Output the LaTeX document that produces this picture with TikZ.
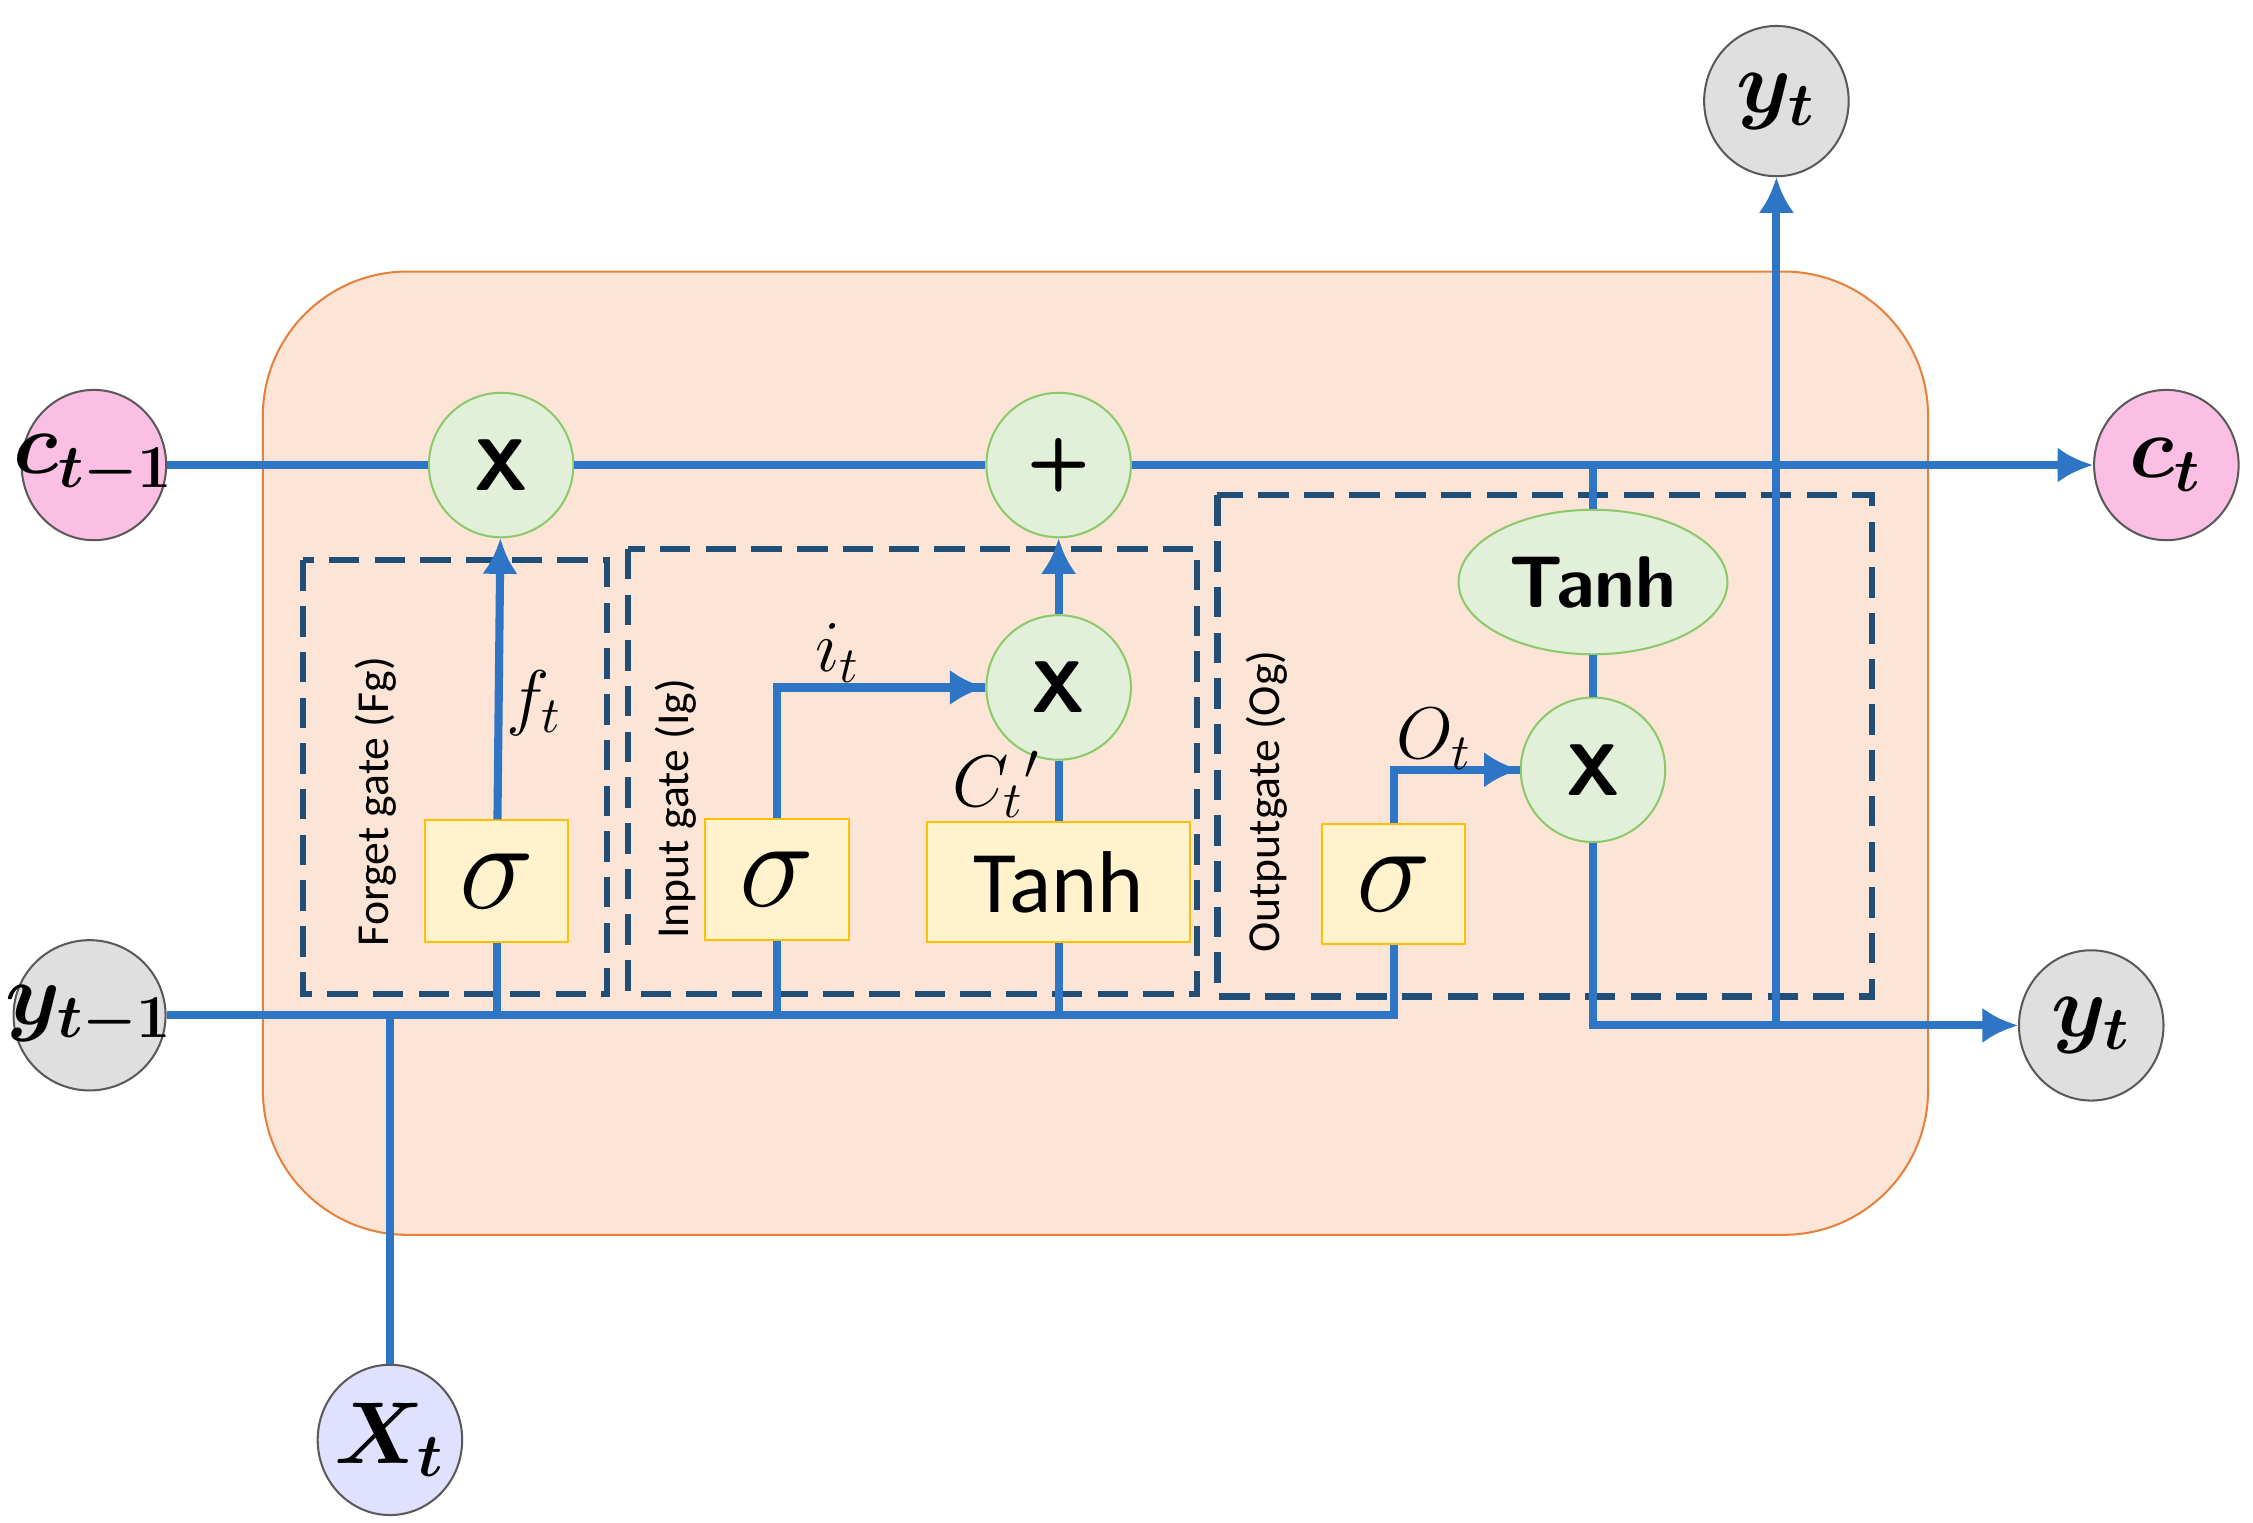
\documentclass[tikz,border=0pt]{standalone}
\usepackage{fontspec}
\setmainfont{Carlito}
\usepackage{bm}
\usetikzlibrary{shapes.geometric,arrows.meta,positioning}
\definecolor{cellfill}{HTML}{FCE4D6}
\definecolor{celldraw}{HTML}{E5813D}
\definecolor{flow}{HTML}{2E75C6}
\definecolor{gatebox}{HTML}{1F4E79}
\definecolor{opfill}{HTML}{E2F0D9}
\definecolor{opdraw}{HTML}{8CC96B}
\definecolor{sigfill}{HTML}{FFF2CC}
\definecolor{sigdraw}{HTML}{FFC000}
\tikzset{
  op/.style={circle, draw=opdraw, fill=opfill, minimum size=1cm, inner sep=0pt, font=\sffamily\bfseries\Large},
  act/.style={draw=sigdraw, fill=sigfill, inner sep=0pt, font=\Huge},
  io/.style={ellipse, draw=gray!70!black, minimum width=1cm, minimum height=1.04cm, inner sep=-6pt, font=\LARGE},
  gate/.style={draw=gatebox, very thick, dash pattern=on 6pt off 3pt},
  wire/.style={draw=flow, line width=1.6pt},
  arr/.style={wire, -{Latex[length=7pt,width=7pt]}}
}
\begin{document}
\begin{tikzpicture}[x=0.01cm, y=-0.01cm]
      \useasboundingbox (0,0) rectangle (1560,1054);
      % Cell body
      \draw[celldraw, fill=cellfill, rounded corners=1cm] (182,188) rectangle (1335,855);

      % Gate frames
      \draw[gate] (210,388) rectangle (420,688);
      \draw[gate] (435,380) rectangle (829,688);
      \draw[gate] (843,343) rectangle (1296,690);
      \node[rotate=90, font=\small] at (260,555) {Forget gate (Fg)};
      \node[rotate=90, font=\small] at (468,560) {Input gate (Ig)};
      \node[rotate=90, font=\small] at (877,555) {Outputgate (Og)};

      % Inputs and outputs
      \node[io, fill=magenta!25] (cprev) at (65,322) {$\bm{c_{t-1}}$};
      \node[io, fill=magenta!25] (cnext) at (1500,322) {$\bm{c_t}$};
      \node[io, fill=gray!25] (yprev) at (62,703) {$\bm{y_{t-1}}$};
      \node[io, fill=gray!25] (yout) at (1448,710) {$\bm{y_t}$};
      \node[io, fill=gray!25] (ytop) at (1230,70) {$\bm{y_t}$};
      \node[io, fill=blue!12] (xin) at (270,997) {$\bm{X_t}$};

      % Operators
      \node[op] (mulf) at (347,322) {X};
      \node[op] (add) at (733,322) {+};
      \node[op] (muli) at (733,476) {X};
      \node[op] (mulo) at (1103,533) {X};
      \node[ellipse, draw=opdraw, fill=opfill, minimum width=1.86cm, minimum height=1cm, inner sep=0pt, font=\sffamily\bfseries\Large] (tanho) at (1103,403) {Tanh};

      % Activations
      \node[act, minimum width=0.99cm, minimum height=0.84cm] (sigf) at (344,610) {$\sigma$};
      \node[act, minimum width=0.99cm, minimum height=0.84cm] (sigi) at (538,609) {$\sigma$};
      \node[act, minimum width=1.82cm, minimum height=0.83cm, font=\LARGE] (tanhi) at (733,611) {Tanh};
      \node[act, minimum width=0.99cm, minimum height=0.83cm] (sigo) at (965,612) {$\sigma$};

      % Cell state line
      \draw[wire] (cprev) -- (mulf) -- (add);
      \draw[arr] (add) -- (cnext);
      \coordinate (tap) at (1103,322);
      \draw[wire] (tap) -- (tanho) -- (mulo);

      % Hidden state / input bus
      \coordinate (busend) at (965,703);
      \draw[wire] (yprev) -- (busend) -- (sigo);
      \draw[wire] (sigo.north) |- (mulo);
      \draw[arr] (sigo.north |- mulo) -- (mulo);
      \draw[wire] (xin) -- (xin |- busend);
      \draw[wire] (sigf |- busend) -- (sigf);
      \draw[arr] (sigf) -- (mulf);
      \draw[wire] (sigi |- busend) -- (sigi) |- (muli);
      \draw[arr] (sigi |- muli) -- (muli);
      \draw[wire] (tanhi |- busend) -- (tanhi) -- (muli);
      \draw[arr] (muli) -- (add);

      % Output
      \draw[arr] (mulo) |- (yout);
      \draw[arr] (ytop |- yout) -- (ytop);

      % Labels
      \node[font=\Large] at (370,487) {$f_t$};
      \node[font=\Large] at (580,452) {$i_t$};
      \node[font=\Large] at (690,543) {$C_t{}'$};
      \node[font=\Large] at (993,512) {$O_t$};
\end{tikzpicture}
\end{document}
